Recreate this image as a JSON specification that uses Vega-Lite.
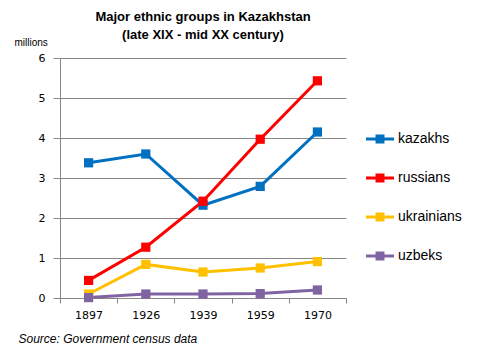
{
  "$schema": "https://vega.github.io/schema/vega-lite/v6.json",
  "width": 286,
  "height": 240,
  "autosize": "none",
  "padding": {"left": 60, "top": 58, "right": 134, "bottom": 66},
  "background": "white",
  "title": {
    "text": ["Major ethnic groups in Kazakhstan", "(late XIX - mid XX century)"],
    "font": "Liberation Sans",
    "fontSize": 13,
    "fontWeight": "bold",
    "color": "black",
    "anchor": "middle",
    "frame": "group",
    "offset": -5,
    "lineHeight": 18
  },
  "config": {
    "view": {"stroke": null},
    "font": "Liberation Sans"
  },
  "data": {
    "values": [
      {"year": "1897", "group": "kazakhs", "value": 3.38},
      {"year": "1926", "group": "kazakhs", "value": 3.6},
      {"year": "1939", "group": "kazakhs", "value": 2.32},
      {"year": "1959", "group": "kazakhs", "value": 2.79},
      {"year": "1970", "group": "kazakhs", "value": 4.15},
      {"year": "1897", "group": "russians", "value": 0.44},
      {"year": "1926", "group": "russians", "value": 1.27},
      {"year": "1939", "group": "russians", "value": 2.42},
      {"year": "1959", "group": "russians", "value": 3.97},
      {"year": "1970", "group": "russians", "value": 5.43},
      {"year": "1897", "group": "ukrainians", "value": 0.1},
      {"year": "1926", "group": "ukrainians", "value": 0.84},
      {"year": "1939", "group": "ukrainians", "value": 0.65},
      {"year": "1959", "group": "ukrainians", "value": 0.75},
      {"year": "1970", "group": "ukrainians", "value": 0.91},
      {"year": "1897", "group": "uzbeks", "value": 0.01},
      {"year": "1926", "group": "uzbeks", "value": 0.1},
      {"year": "1939", "group": "uzbeks", "value": 0.1},
      {"year": "1959", "group": "uzbeks", "value": 0.11},
      {"year": "1970", "group": "uzbeks", "value": 0.2}
    ]
  },
  "encoding": {
    "x": {
      "field": "year",
      "type": "ordinal",
      "scale": {"type": "band", "paddingInner": 0, "paddingOuter": 0},
      "axis": {
        "title": "Source: Government census data",
        "titleFont": "Liberation Sans",
        "titleFontStyle": "italic",
        "titleFontWeight": "normal",
        "titleFontSize": 12,
        "titleColor": "black",
        "titleAnchor": "start",
        "titleAlign": "left",
        "titleX": -42,
        "titleY": 44,
        "titleBaseline": "alphabetic",
        "labelAngle": 0,
        "labelFont": "DejaVu Sans",
        "labelFontSize": 11,
        "labelColor": "black",
        "labelPadding": 6,
        "bandPosition": 0,
        "tickBand": "extent",
        "ticks": true,
        "tickSize": 5,
        "tickColor": "#868686",
        "domainColor": "#868686",
        "grid": false
      }
    },
    "y": {
      "field": "value",
      "type": "quantitative",
      "scale": {"domain": [0, 6]},
      "axis": {
        "title": "millions",
        "titleAngle": 0,
        "titleFontWeight": "normal",
        "titleFontSize": 10,
        "titleColor": "black",
        "titleAlign": "left",
        "titleBaseline": "alphabetic",
        "titleX": -46,
        "titleY": -13,
        "values": [0, 1, 2, 3, 4, 5, 6],
        "labelFont": "DejaVu Sans",
        "labelFontSize": 11,
        "labelColor": "black",
        "labelPadding": 8,
        "tickSize": 7,
        "tickColor": "#868686",
        "domainColor": "#868686",
        "gridColor": "#868686",
        "gridOpacity": 1
      }
    },
    "color": {
      "field": "group",
      "type": "nominal",
      "scale": {
        "domain": ["kazakhs", "russians", "ukrainians", "uzbeks"],
        "range": ["#0070C0", "#FF0000", "#FFC000", "#8064A2"]
      },
      "legend": {
        "title": null,
        "orient": "none",
        "legendX": 306,
        "legendY": 67,
        "symbolType": "M-1,-0.11H1V0.11H-1Z M-0.32,-0.32H0.32V0.32H-0.32Z",
        "symbolSize": 784,
        "symbolStrokeWidth": 0,
        "symbolOpacity": 1,
        "labelFontSize": 14,
        "labelColor": "black",
        "labelOffset": 4,
        "rowPadding": 18
      }
    }
  },
  "layer": [
    {"mark": {"type": "line", "strokeWidth": 3}},
    {"mark": {"type": "point", "shape": "square", "filled": true, "size": 85, "opacity": 1}}
  ]
}
